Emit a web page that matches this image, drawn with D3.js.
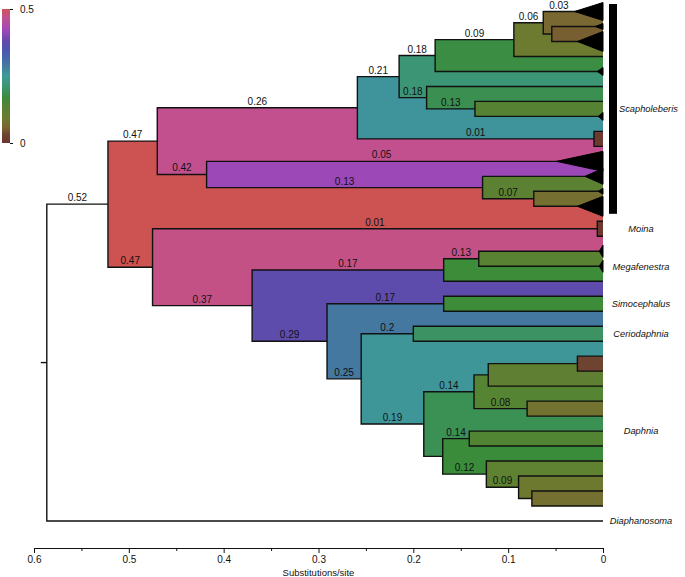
<!DOCTYPE html>
<html><head><meta charset="utf-8">
<script src="https://cdn.jsdelivr.net/npm/d3@7"></script>
<style>
body{margin:0;background:#fff;}
text{font-family:"Liberation Sans",Arial,Helvetica,sans-serif;}
</style>
</head><body>
<svg id="chart" width="685" height="577"></svg>
<script>
// ---------------- DATA ----------------
const nodeIds = ["root","N52","N47a","N26","N21","N18a","N09","N06","T03","N05","S1","S2","L3","S4",
  "N18b","L5","N13","L6","S7","N01","L8","L9","N42","T05","N13b","S11","N07","S12","S13",
  "N47b","Nmo","L14","L15","N37","N17a","N13c","S16","S17","L18","N29","N17b","L19","L20",
  "N25","N20","L21","L22","N19","N14a","Nu1","Nu2","L23","L24","L25","N08","L26","L27",
  "Nu3","N14c","L28","L29","N12","L30","N09b","L31","Nu4","L32","L33","Diaph"];
const nodeParents = ["","root","N52","N47a","N26","N21","N18a","N09","N06","N06","N05","N05","N09","N18a",
  "N21","N18b","N18b","N13","N13","N26","N01","N01","N47a","N42","N42","N13b","N13b","N07","N07",
  "N52","N47b","Nmo","Nmo","N47b","N37","N17a","N13c","N13c","N17a","N37","N29","N17b","N17b",
  "N29","N25","N20","N20","N25","N19","N14a","Nu1","Nu2","Nu2","Nu1","N14a","N08","N08",
  "N19","Nu3","N14c","N14c","Nu3","N12","N12","N09b","N09b","Nu4","Nu4","root"];
const nodeAges = [0.5865,0.522,0.470,0.259,0.215,0.177,0.094,0.063,0.030,0.054,0.008,0.027,0,0.006,
  0.186,0,0.135,0,0.005,0.0095,0,0,0.418,0.049,0.127,0.019,0.073,0.005,0.027,
  0.475,0.006,0,0,0.370,0.168,0.131,0.004,0.004,0,0.291,0.168,0,0,
  0.255,0.200,0,0,0.189,0.136,0.121,0.027,0,0,0,0.080,0,0,
  0.169,0.141,0,0,0.123,0,0.089,0,0.075,0,0,0];
const nodeLabels = ["","0.52","0.47","0.26","0.21","0.18","0.09","0.06","0.03","","","","","",
  "0.18","","0.13","","","0.01","","","0.42","0.05","0.13","","0.07","","",
  "0.47","0.01","","","0.37","0.17","0.13","","","","0.29","0.17","","",
  "0.25","0.2","","","0.19","0.14","","","","","","0.08","","",
  "","0.14","","","0.12","","0.09","","","","",""];
// number of collapsed sequences drawn as a triangle (0 = single tip)
const collapsedTips = [0,0,0,0,0,0,0,0,9,0,3,10,0,4,
  0,0,0,0,4,0,0,0,0,10,0,8,0,3,10,
  0,0,0,0,0,0,0,6,6,0,0,0,0,0,
  0,0,0,0,0,0,0,0,0,0,0,0,0,0,
  0,0,0,0,0,0,0,0,0,0,0,0];

const cladeNames = ["Scapholeberis","Moina","Megafenestra","Simocephalus","Ceriodaphnia","Daphnia","Diaphanosoma"];
const cladeFirstTip = ["T03","L14","S16","L19","L21","L23","Diaph"];
const cladeLastTip  = ["S13","L15","L18","L20","L22","L33","Diaph"];
const barredClades = ["Scapholeberis"];

const axisTicks = [0.6,0.5,0.4,0.3,0.2,0.1,0];
const axisMinorTicks = [0.55,0.45,0.35,0.25,0.15,0.05];
const axisTitle = "Substitutions/site";

const colorStops = [0,0.03,0.06,0.09,0.13,0.17,0.21,0.25,0.29,0.34,0.38,0.42,0.47,0.5];
const colorValues = ["#6b3530","#6e4430","#7a6632","#6e7a30","#5a8232","#3a8c3a","#3c9470","#3e9a98",
  "#4479a0","#4a58b0","#6448ac","#a048b8","#c2508f","#cd5352"];
const legendTicks = [0,0.5];

// ---------------- LAYOUT ----------------
const svg = d3.select("#chart");
const x = d3.scaleLinear().domain([0.6, 0]).range([34, 603]);
const color = d3.scaleLinear().domain(colorStops).range(colorValues).clamp(true);

const rows = nodeIds.map((id,i)=>({id, parent: nodeParents[i], age: nodeAges[i], label: nodeLabels[i], tips: collapsedTips[i]}));
const root = d3.stratify().id(d=>d.id).parentId(d=>d.parent||null)(rows);
const leaves = root.leaves();
const y = d3.scaleLinear().domain([0, leaves.length-1]).range([11.5, 521]);
leaves.forEach((l,i)=>{ l.yy = y(i); });
root.eachAfter(n=>{ if(n.children){ n.yy = (n.children[0].yy + n.children[n.children.length-1].yy)/2; } });
root.each(n=>{ n.xx = x(n.data.age); });
const xRight = x(0);
const triH = d3.scaleLinear().domain([0,10]).range([0,10]);

const gTree = svg.append("g");
root.eachBefore(n=>{
  if(!n.children) return;
  const top = n.children[0].yy, bot = n.children[n.children.length-1].yy;
  if(n.parent){
    gTree.append("rect").attr("x", n.xx).attr("y", top).attr("width", xRight-n.xx).attr("height", bot-top)
      .attr("fill", color(n.data.age));
  } else {
    gTree.append("line").attr("x1", n.xx-6).attr("x2", n.xx).attr("y1", n.yy).attr("y2", n.yy)
      .attr("stroke","#111").attr("stroke-width",1.4);
  }
  gTree.append("path").attr("d", `M${xRight},${top}H${n.xx}V${bot}H${xRight}`)
    .attr("fill","none").attr("stroke","#111").attr("stroke-width",1.4);
});
root.leaves().filter(l=>l.data.tips>0).forEach(l=>{
  const h = triH(l.data.tips);
  gTree.append("path").attr("d", `M${l.xx},${l.yy}L${xRight},${l.yy-h}L${xRight},${l.yy+h}Z`)
    .attr("fill","#000").attr("stroke","#000").attr("stroke-width",1);
});
root.descendants().filter(n=>n.data.label && n.parent).forEach(n=>{
  gTree.append("text").attr("x", (n.parent.xx + n.xx)/2).attr("y", n.yy-3)
    .attr("text-anchor","middle").attr("font-size",10).attr("fill","#111").text(n.data.label);
});

// clade labels
const byId = new Map(root.descendants().map(n=>[n.id,n]));
const labelX = 641, barX = 609, barW = 8;
cladeNames.forEach((name,i)=>{
  const a = byId.get(cladeFirstTip[i]).yy, b = byId.get(cladeLastTip[i]).yy;
  const barred = barredClades.includes(name);
  if(barred){
    svg.append("rect").attr("x", barX).attr("y", a-7.5).attr("width", barW).attr("height", b-a+15).attr("fill","#000");
  }
  svg.append("text").attr("x", barred ? barX+barW+2 : labelX).attr("y",(a+b)/2).attr("dy","0.35em")
    .attr("text-anchor", barred ? "start" : "middle")
    .attr("font-size",9.3).attr("font-style","italic").attr("fill","#111").text(name);
});

// bottom axis
const axY = 548;
const gAx = svg.append("g").attr("transform",`translate(0,${axY})`)
  .call(d3.axisBottom(x).tickValues(axisTicks).tickSize(5).tickSizeOuter(0).tickFormat(d=>String(d)));
gAx.selectAll("text").attr("font-size",10).attr("fill","#111").attr("font-family","Liberation Sans, Arial, sans-serif");
gAx.selectAll("path,line").attr("stroke","#111");
const gAxm = svg.append("g").attr("transform",`translate(0,${axY})`)
  .call(d3.axisBottom(x).tickValues(axisMinorTicks).tickSize(3).tickSizeOuter(0).tickFormat(""));
gAxm.select(".domain").remove();
gAxm.selectAll("line").attr("stroke","#111");
svg.append("text").attr("x",(x(0.6)+x(0))/2).attr("y",576).attr("text-anchor","middle")
  .attr("font-size",9.5).attr("fill","#111").text(axisTitle);

// color legend
const defs = svg.append("defs");
const grad = defs.append("linearGradient").attr("id","cg").attr("x1",0).attr("y1",1).attr("x2",0).attr("y2",0);
colorStops.forEach((s,i)=>grad.append("stop").attr("offset", s/0.5).attr("stop-color", colorValues[i]));
const ly = d3.scaleLinear().domain([0,0.5]).range([143,9]);
svg.append("rect").attr("x",2).attr("y",ly(0.5)).attr("width",8).attr("height",ly(0)-ly(0.5)).attr("fill","url(#cg)");
const gL = svg.append("g").attr("transform","translate(10,0)")
  .call(d3.axisRight(ly).tickValues(legendTicks).tickSize(3).tickFormat(d=>String(d)));
gL.select(".domain").remove();
gL.selectAll("line").attr("stroke","#111");
gL.selectAll("text").attr("font-size",10).attr("fill","#111").attr("x",10).attr("font-family","Liberation Sans, Arial, sans-serif");
</script>
</body></html>
